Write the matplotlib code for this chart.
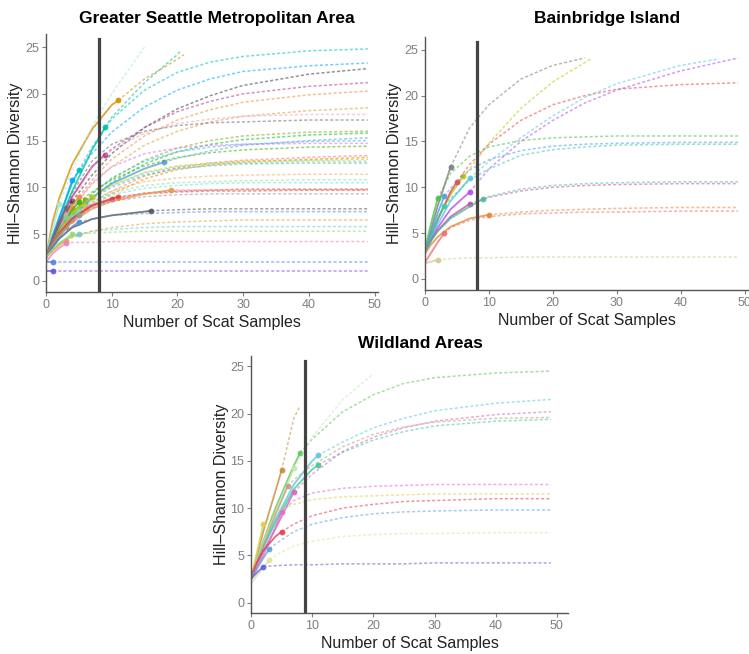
import matplotlib.pyplot as plt
import numpy as np

plt.rcParams['font.family'] = ['Liberation Sans', 'DejaVu Sans']

nan = np.nan
grid = [0, 1, 2, 4, 7, 10, 15, 20, 25, 30, 40, 49]

# ---- Greater Seattle Metropolitan Area ----
gsma_colors = ["#D39200", "#00C19F", "#A8E6D8", "#00BFC4", "#00A9FF", "#3A3A3A",
               "#B03A8E", "#F08A3A", "#D8A030", "#F0A0C8", "#6E6E6E", "#7CAE00",
               "#00BA38", "#5A9FD8", "#35B8E8", "#E76BF3", "#39B600", "#F8766D",
               "#E58700", "#C8C800", "#8CC88C", "#30C0C8", "#F0B060", "#90E090",
               "#70D8E0", "#D8386E", "#E8403A", "#E89A50", "#999999", "#555555",
               "#4A90E0", "#60D0D8", "#E8A040", "#A0D860", "#F080C0", "#5080F0",
               "#7050E0"]
gsma_n = [11, 9, 2, 5, 4, 4, 9, 5, 4, 3, 3, 6, 6, 18, 4, 3, 5, 4, 3, 7, 3, 5,
          6, 5, 4, 10, 11, 19, 5, 16, 5, 5, 3, 4, 3, 1, 1]
gsma_obs = [19.3, 16.4, 8.2, 11.8, 10.8, 8.5, 13.5, 9.0, 7.8, 7.0, 7.8, 8.6,
            8.2, 12.7, 7.0, 6.6, 8.4, 6.5, 5.8, 9.0, 6.8, 7.5, 8.0, 7.5, 6.8,
            8.7, 9.0, 9.7, 7.0, 7.5, 6.3, 5.0, 4.3, 5.0, 4.0, 2.0, 1.0]
gsma_curves = [
    [2.5, 6.3, 8.8, 12.5, 16.2, 18.8, 21.6, 23.7, nan, nan, nan, nan],
    [2.5, 4.5, 6.3, 9.6, 14.0, 17.5, 21.2, 24.2, nan, nan, nan, nan],
    [2.5, 5.5, 8.2, 11.8, 16.5, 20.0, 25.0, nan, nan, nan, nan, nan],
    [2.5, 4.8, 6.8, 10.5, 14.3, 17.3, 20.4, 22.3, 23.4, 24.0, 24.6, 24.8],
    [2.5, 4.6, 6.6, 10.8, 13.6, 15.9, 18.6, 20.4, 21.6, 22.4, 23.0, 23.3],
    [2.5, 4.2, 5.8, 8.5, 11.3, 13.6, 16.4, 18.4, 19.8, 20.9, 22.1, 22.7],
    [2.5, 4.5, 6.3, 9.0, 12.2, 14.1, 16.4, 18.1, 19.2, 20.0, 20.8, 21.2],
    [2.5, 4.2, 5.6, 8.1, 10.8, 13.0, 15.5, 17.2, 18.3, 19.1, 19.9, 20.3],
    [2.5, 4.0, 5.3, 7.8, 10.3, 12.2, 14.5, 16.0, 17.0, 17.6, 18.2, 18.5],
    [2.5, 4.1, 5.5, 8.5, 12.2, 14.0, 15.8, 16.8, 17.3, 17.6, 17.8, 17.8],
    [2.5, 4.3, 6.0, 9.4, 12.8, 14.6, 16.0, 16.6, 16.9, 17.0, 17.2, 17.2],
    [2.5, 4.0, 5.2, 7.3, 9.3, 10.9, 12.9, 14.2, 15.0, 15.5, 15.9, 16.0],
    [2.5, 3.9, 5.0, 7.0, 8.9, 10.5, 12.5, 13.8, 14.6, 15.1, 15.6, 15.8],
    [2.5, 3.8, 4.9, 6.7, 8.9, 10.4, 12.0, 13.1, 13.9, 14.5, 15.0, 15.3],
    [2.5, 3.9, 5.0, 7.0, 9.3, 11.0, 12.8, 13.8, 14.3, 14.6, 14.9, 15.0],
    [2.5, 4.0, 5.3, 7.8, 10.5, 12.2, 13.6, 14.2, 14.5, 14.6, 14.7, 14.7],
    [2.5, 4.0, 5.4, 7.6, 9.5, 10.8, 12.3, 13.2, 13.7, 14.0, 14.3, 14.4],
    [2.5, 3.7, 4.7, 6.5, 8.3, 9.6, 11.2, 12.1, 12.6, 12.9, 13.2, 13.4],
    [2.5, 3.6, 4.6, 6.2, 8.0, 9.3, 10.9, 11.9, 12.4, 12.7, 13.0, 13.2],
    [2.5, 4.0, 5.2, 7.2, 9.0, 10.2, 11.6, 12.3, 12.6, 12.8, 12.9, 13.0],
    [2.5, 3.9, 5.0, 6.9, 8.9, 10.2, 11.5, 12.2, 12.5, 12.6, 12.8, 12.8],
    [2.5, 3.8, 4.9, 6.8, 8.8, 10.0, 11.3, 12.0, 12.3, 12.5, 12.6, 12.6],
    [2.5, 3.8, 4.9, 6.7, 8.6, 9.6, 10.6, 11.0, 11.2, 11.3, 11.4, 11.4],
    [2.5, 3.8, 5.0, 6.8, 8.5, 9.4, 10.2, 10.5, 10.6, 10.7, 10.8, 10.8],
    [2.5, 3.8, 4.9, 6.8, 8.3, 9.2, 9.9, 10.2, 10.4, 10.5, 10.5, 10.5],
    [2.5, 3.9, 5.0, 6.6, 8.0, 8.8, 9.4, 9.6, 9.7, 9.8, 9.8, 9.8],
    [2.5, 4.0, 5.1, 6.7, 8.1, 8.8, 9.3, 9.5, 9.6, 9.6, 9.7, 9.7],
    [2.5, 3.8, 4.8, 6.3, 7.7, 8.5, 9.3, 9.7, 9.7, 9.7, 9.7, 9.7],
    [2.5, 3.8, 4.9, 6.4, 7.8, 8.5, 9.0, 9.2, 9.3, 9.3, 9.3, 9.3],
    [2.5, 3.6, 4.5, 5.7, 6.6, 7.0, 7.4, 7.6, 7.7, 7.7, 7.7, 7.7],
    [2.5, 3.6, 4.5, 5.8, 6.6, 7.0, 7.2, 7.3, 7.4, 7.4, 7.4, 7.4],
    [2.5, 3.3, 4.0, 4.8, 5.3, 5.5, 5.7, 5.8, 5.8, 5.8, 5.8, 5.8],
    [2.5, 3.2, 3.8, 4.6, 5.3, 5.7, 6.1, 6.3, 6.4, 6.5, 6.5, 6.5],
    [2.5, 3.3, 4.0, 5.0, 5.1, 5.2, 5.3, 5.3, 5.3, 5.3, 5.3, 5.3],
    [2.0, 2.9, 3.5, 4.1, 4.1, 4.2, 4.2, 4.2, 4.2, 4.2, 4.2, 4.2],
    [2.0, 2.0, 2.0, 2.0, 2.0, 2.0, 2.0, 2.0, 2.0, 2.0, 2.0, 2.0],
    [1.0, 1.0, 1.0, 1.0, 1.0, 1.0, 1.0, 1.0, 1.0, 1.0, 1.0, 1.0],
]
gsma_end_x = [21, 20.5] + [None] * 35
gsma_end_y = [24.2, 24.6] + [None] * 35
gsma_cutoff = 8

# ---- Bainbridge Island ----
bi_colors = ["#7F7F7F", "#C6C600", "#E8474F", "#5BC8E0", "#B44CF0", "#4CC04C",
             "#4C9FE8", "#3CC8B0", "#C050A0", "#4FB8A0", "#E88A30", "#F07070",
             "#D8C890"]
bi_n = [4, 6, 5, 7, 7, 2, 3, 3, 7, 9, 10, 3, 2]
bi_obs = [12.2, 11.2, 10.6, 11.0, 9.5, 8.8, 9.0, 8.0, 8.2, 8.7, 7.0, 5.0, 2.1]
bi_curves = [
    [2.8, 5.5, 8.0, 12.2, 16.5, 19.0, 21.8, 23.3, 24.1, nan, nan, nan],
    [2.8, 4.8, 6.6, 9.2, 12.0, 14.8, 18.6, 21.5, 23.6, nan, nan, nan],
    [2.8, 4.8, 6.5, 9.5, 12.5, 14.7, 17.3, 19.0, 20.0, 20.7, 21.2, 21.4],
    [2.8, 4.5, 6.0, 8.5, 11.0, 12.8, 15.4, 17.8, 19.8, 21.3, 23.3, nan],
    [2.8, 4.3, 5.6, 7.6, 9.5, 12.0, 15.0, 17.3, 19.2, 20.6, 22.7, 24.1],
    [3.3, 6.2, 8.8, 11.5, 13.4, 14.4, 15.1, 15.4, 15.5, 15.6, 15.6, 15.6],
    [3.0, 5.2, 7.2, 9.9, 11.9, 13.0, 14.0, 14.5, 14.7, 14.8, 14.9, 14.9],
    [3.0, 4.8, 6.5, 8.8, 10.8, 12.0, 13.5, 14.1, 14.4, 14.6, 14.7, 14.7],
    [3.0, 4.3, 5.3, 6.8, 8.2, 8.9, 9.6, 10.0, 10.2, 10.3, 10.4, 10.4],
    [3.0, 4.2, 5.2, 6.6, 7.9, 9.0, 9.8, 10.2, 10.4, 10.5, 10.6, 10.6],
    [2.8, 3.8, 4.6, 5.7, 6.6, 7.0, 7.3, 7.5, 7.6, 7.7, 7.8, 7.8],
    [1.8, 2.9, 4.0, 5.6, 6.4, 6.8, 7.1, 7.2, 7.3, 7.3, 7.4, 7.4],
    [1.7, 1.9, 2.1, 2.2, 2.3, 2.3, 2.4, 2.4, 2.4, 2.4, 2.4, 2.4],
]
bi_end_x = [None, 26, None, 46] + [None] * 9
bi_end_y = [None, 24.0, None, 24.0] + [None] * 9
bi_cutoff = 8.1

# ---- Wildland Areas ----
wa_colors = ["#C88A3A", "#5CC85C", "#C8E6B0", "#5CC8E0", "#40C8A0", "#E060C0",
             "#C0A080", "#E070D0", "#D8D050", "#E04050", "#60A0E0", "#E0E0A0",
             "#6060D0"]
wa_n = [5, 8, 7, 11, 11, 7, 6, 5, 2, 5, 3, 3, 2]
wa_obs = [14.0, 15.8, 14.2, 15.6, 14.6, 11.7, 12.3, 9.6, 8.3, 7.5, 5.7, 4.5, 3.8]
wa_curves = [
    [2.5, 5.0, 7.5, 11.8, 19.5, nan, nan, nan, nan, nan, nan, nan],
    [2.5, 4.5, 6.5, 10.0, 14.5, 17.3, 20.2, 22.0, 23.2, 23.8, 24.3, 24.5],
    [2.5, 4.5, 6.3, 9.5, 14.2, 17.5, 21.5, 24.2, nan, nan, nan, nan],
    [2.5, 4.3, 6.0, 8.8, 12.5, 15.0, 17.0, 18.5, 19.5, 20.3, 21.1, 21.5],
    [2.5, 4.2, 5.8, 8.5, 12.0, 14.1, 15.9, 17.2, 18.1, 18.7, 19.2, 19.4],
    [2.5, 4.0, 5.4, 7.8, 11.7, 13.6, 16.0, 17.5, 18.5, 19.2, 19.9, 20.2],
    [2.5, 4.2, 6.0, 9.3, 13.0, 14.5, 16.5, 17.8, 18.6, 19.1, 19.5, 19.6],
    [2.5, 3.8, 5.0, 8.0, 10.8, 11.6, 12.1, 12.3, 12.4, 12.5, 12.5, 12.5],
    [2.5, 5.4, 8.3, 9.6, 10.4, 10.9, 11.2, 11.3, 11.4, 11.5, 11.5, 11.5],
    [2.8, 4.3, 5.5, 7.0, 8.3, 9.2, 10.0, 10.4, 10.7, 10.8, 11.0, 11.0],
    [2.5, 3.6, 4.7, 6.2, 7.5, 8.3, 9.0, 9.4, 9.6, 9.7, 9.8, 9.8],
    [2.0, 2.9, 3.7, 5.0, 6.0, 6.5, 7.0, 7.2, 7.3, 7.3, 7.4, 7.4],
    [2.5, 3.2, 3.8, 3.9, 4.0, 4.0, 4.1, 4.1, 4.1, 4.2, 4.2, 4.2],
]
wa_end_x = [8] + [None] * 12
wa_end_y = [20.8] + [None] * 12
wa_cutoff = 8.8


def draw_panel(ax, colors, n_obs, d_obs, curves, end_x, end_y, cutoff,
               title, xmax, ylim, title_x, title_pad, ylabel_x):
    gx = np.array(grid, dtype=float)
    for col, n, d, ys, ex, ey in zip(colors, n_obs, d_obs, curves, end_x, end_y):
        gy = np.array(ys, dtype=float)
        ok = ~np.isnan(gy)
        xs, yv = gx[ok], gy[ok]
        sx = np.append(xs[xs < n], n)
        sy = np.append(yv[xs < n], d)
        dx = np.concatenate([[n], xs[xs > n]])
        dy = np.concatenate([[d], yv[xs > n]])
        if ex is not None:
            dx = np.append(dx[dx < ex], ex)
            dy = np.append(dy[:len(dx) - 1], ey)
        ax.plot(sx, sy, color=col, lw=1.3, alpha=0.8, solid_capstyle='round')
        ax.plot(dx, dy, color=col, lw=1.1, alpha=0.55, ls=(0, (2, 1.4)))
        ax.plot(n, d, 'o', color=col, ms=4.2, alpha=0.9, mec='none')
    ax.axvline(cutoff, ymax=0.98, color='#444444', lw=2.3)
    ax.set_xlim(0, xmax)
    ax.set_ylim(*ylim)
    ax.set_xticks([0, 10, 20, 30, 40, 50])
    ax.set_yticks([0, 5, 10, 15, 20, 25])
    for s in ['top', 'right']:
        ax.spines[s].set_visible(False)
    for s in ['left', 'bottom']:
        ax.spines[s].set_color('#555555')
        ax.spines[s].set_linewidth(1.0)
    ax.tick_params(colors='#7F7F7F', labelsize=9, length=3, width=0.8, pad=2)
    ax.set_xlabel('Number of Scat Samples', fontsize=11.5, color='#222222', labelpad=3)
    ax.set_ylabel('Hill\u2013Shannon Diversity', fontsize=11.5, color='#222222')
    ax.yaxis.set_label_coords(ylabel_x, 0.5)
    ax.set_title(title, fontsize=12.5, fontweight='bold', x=title_x, pad=title_pad)


fig = plt.figure(figsize=(7.49, 6.54), dpi=100)
ax1 = fig.add_axes([0.0614, 0.5535, 0.443, 0.3945])
ax2 = fig.add_axes([0.5674, 0.5566, 0.4326, 0.3869])
ax3 = fig.add_axes([0.3351, 0.0627, 0.4232, 0.393])

draw_panel(ax1, gsma_colors, gsma_n, gsma_obs, gsma_curves, gsma_end_x, gsma_end_y,
           gsma_cutoff, 'Greater Seattle Metropolitan Area', 50.5, (-1.2, 26.4),
           0.515, 8, -0.070)
draw_panel(ax2, bi_colors, bi_n, bi_obs, bi_curves, bi_end_x, bi_end_y,
           bi_cutoff, 'Bainbridge Island', 50.7, (-1.2, 26.4), 0.562, 10, -0.070)
draw_panel(ax3, wa_colors, wa_n, wa_obs, wa_curves, wa_end_x, wa_end_y,
           wa_cutoff, 'Wildland Areas', 51.8, (-1.1, 26.1), 0.536, 6, -0.068)

fig.savefig('out.png', dpi=100)
